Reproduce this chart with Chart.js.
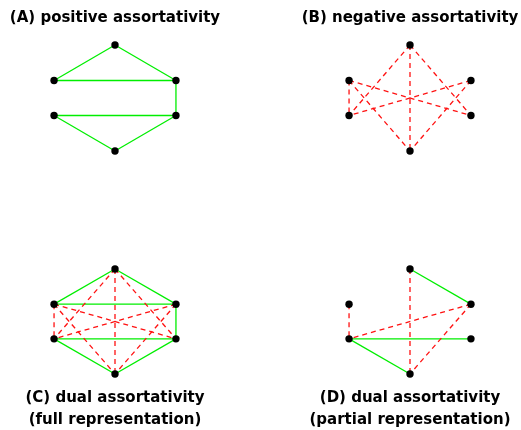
<!DOCTYPE html>
<html>
<head>
<meta charset="utf-8">
<script src="https://cdn.jsdelivr.net/npm/chart.js@4"></script>
<style>
  html, body { margin: 0; padding: 0; background: #fff; overflow: hidden; }
  canvas { position: absolute; }
</style>
</head>
<body>
<canvas id="panelA" width="228" height="215" style="left:1px;top:0px"></canvas>
<canvas id="panelB" width="228" height="215" style="left:296px;top:0px"></canvas>
<canvas id="panelC" width="228" height="215" style="left:1px;top:215px"></canvas>
<canvas id="panelD" width="228" height="215" style="left:296px;top:215px"></canvas>
<script>
// six nodes on a hexagon: top, upper left, upper right, lower left, lower right, bottom
const nodeX = [0, -1, 1, -1, 1, 0];
const nodeY = [1, 0.33, 0.33, -0.33, -0.33, -1];

// edges as pairs of node indices
const positiveEdges = [[0, 1], [0, 2], [1, 2], [2, 4], [3, 4], [3, 5], [4, 5]];
const negativeEdges = [[0, 3], [0, 4], [0, 5], [1, 3], [1, 4], [1, 5], [2, 3], [2, 5]];
const partialPositive = [[0, 2], [3, 4], [3, 5]];
const partialNegative = [[1, 3], [0, 5], [2, 3], [2, 5]];

const titleA = ['(A) positive assortativity'];
const titleB = ['(B) negative assortativity'];
const titleC = ['(C) dual assortativity', '(full representation)'];
const titleD = ['(D) dual assortativity', '(partial representation)'];

const green = '#00ee00';
const red = '#ff1111';

function node(i) {
  return { x: nodeX[i], y: nodeY[i] };
}

function edgeSets(edges, color, dashed) {
  return edges.map(([a, b]) => ({
    data: [node(a), node(b)],
    showLine: true,
    borderColor: color,
    borderWidth: 1.3,
    borderDash: dashed ? [5, 4] : [],
    pointRadius: 0,
    pointHoverRadius: 0,
    clip: false
  }));
}

function drawNetwork(id, title, solid, dashed, titleBottom) {
  const canvas = document.getElementById(id);
  const halfX = (canvas.width / 2) / 63;

  const nodes = {
    data: nodeX.map((x, i) => node(i)),
    showLine: false,
    pointRadius: 3.7,
    pointHoverRadius: 3.7,
    pointBackgroundColor: '#000',
    pointBorderWidth: 0,
    clip: false
  };

  new Chart(canvas, {
    type: 'scatter',
    data: {
      datasets: [nodes].concat(edgeSets(dashed, red, true), edgeSets(solid, green, false))
    },
    options: {
      responsive: false,
      animation: false,
      devicePixelRatio: 1,
      layout: {
        padding: titleBottom ? { top: 54, bottom: 0 } : { top: 0, bottom: 64 }
      },
      scales: {
        x: { display: false, min: -halfX, max: halfX },
        y: { display: false, min: -1, max: 1 }
      },
      plugins: {
        legend: { display: false },
        tooltip: { enabled: false },
        title: {
          display: true,
          text: title,
          position: titleBottom ? 'bottom' : 'top',
          color: '#000',
          font: {
            family: '"DejaVu Sans", sans-serif',
            size: 15,
            weight: 'bold',
            lineHeight: titleBottom ? 1.45 : 1.2
          },
          padding: titleBottom ? { top: 13.5, bottom: -1 } : { top: 9, bottom: 18 }
        }
      }
    }
  });
}

drawNetwork('panelA', titleA, positiveEdges, [], false);
drawNetwork('panelB', titleB, [], negativeEdges, false);
drawNetwork('panelC', titleC, positiveEdges, negativeEdges, true);
drawNetwork('panelD', titleD, partialPositive, partialNegative, true);
</script>
</body>
</html>
